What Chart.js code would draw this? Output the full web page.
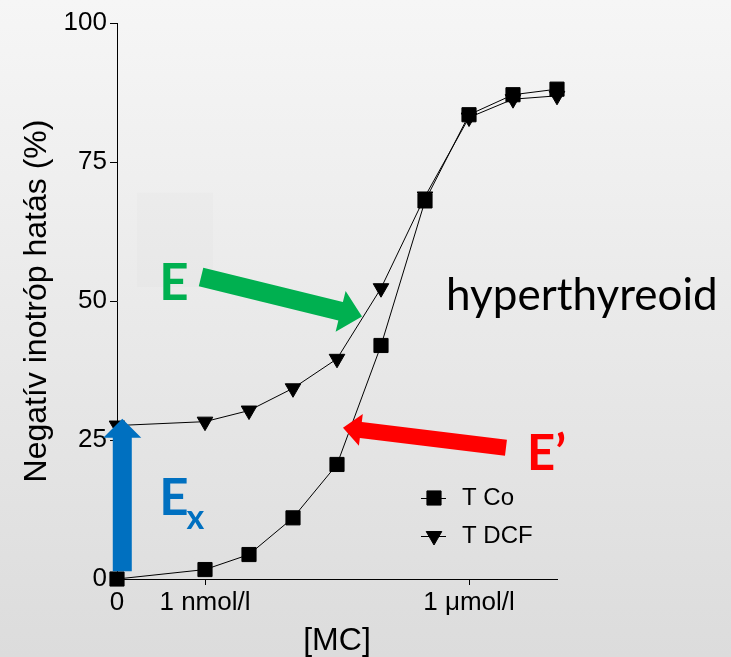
<!DOCTYPE html>
<html>
<head>
<meta charset="utf-8">
<script src="https://cdn.jsdelivr.net/npm/chart.js@4.4.1/dist/chart.umd.min.js"></script>
<style>
  html, body { margin: 0; padding: 0; }
  #wrap { position: relative; width: 731px; height: 657px; background: linear-gradient(#f6f6f6, #dcdcdc); }
</style>
</head>
<body>
<div id="wrap"><canvas id="chart"></canvas></div>
<script>
// x = concentration in decades (0 = no MC, 1 = 1 nmol/l, 4 = 1 umol/l)
var concentrations = [0, 1, 1.5, 2, 2.5, 3, 3.5, 4, 4.5, 5];
var tickValues = [0, 1, 4];
var tickLabels = ['0', '1 nmol/l', '1 \u03bcmol/l'];
var seriesNames = ['T Co', 'T DCF'];
var tCo = [0, 1.7, 4.4, 11.0, 20.6, 42.0, 68.0, 83.5, 87.1, 88.1];
var tDcf = [27.6, 28.3, 30.3, 34.3, 39.6, 52.3, 68.8, 83.0, 86.3, 86.9];

function points(values) {
  return values.map(function(v, i) { return { x: concentrations[i], y: v }; });
}

function drawArrow(ctx, x0, y0, x1, y1, shaft, headW, headL, color) {
  var len = Math.hypot(x1 - x0, y1 - y0);
  ctx.save();
  ctx.translate(x0, y0);
  ctx.rotate(Math.atan2(y1 - y0, x1 - x0));
  ctx.beginPath();
  ctx.moveTo(0, -shaft / 2);
  ctx.lineTo(len - headL, -shaft / 2);
  ctx.lineTo(len - headL, -headW / 2);
  ctx.lineTo(len, 0);
  ctx.lineTo(len - headL, headW / 2);
  ctx.lineTo(len - headL, shaft / 2);
  ctx.lineTo(0, shaft / 2);
  ctx.closePath();
  ctx.fillStyle = color;
  ctx.fill();
  ctx.restore();
}

var slideMarks = {
  id: 'slideMarks',
  beforeDatasetsDraw: function(chart) {
    var ctx = chart.ctx, sx = chart.scales.x, sy = chart.scales.y;
    // faint box left over on the slide
    ctx.save();
    ctx.fillStyle = 'rgba(0,0,0,0.012)';
    var bx = sx.getPixelForValue(0.227), by = sy.getPixelForValue(69.5);
    ctx.fillRect(bx, by, sx.getPixelForValue(1.091) - bx, sy.getPixelForValue(52.5) - by);
    ctx.restore();
  },
  afterDatasetsDraw: function(chart) {
    var ctx = chart.ctx, sx = chart.scales.x, sy = chart.scales.y;
    function px(v) { return sx.getPixelForValue(v); }
    function py(v) { return sy.getPixelForValue(v); }

    drawArrow(ctx, px(0.955), py(54.3), px(2.784), py(47.2), 19, 42, 22, '#00b050');
    drawArrow(ctx, px(4.42), py(23.6), px(2.568), py(27.2), 16, 32, 18, '#ff0000');
    drawArrow(ctx, px(0.06), py(1.4), px(0.06), py(28.8), 19, 38, 19, '#0070c0');

    ctx.save();
    ctx.textBaseline = 'alphabetic';
    ctx.textAlign = 'left';
    ctx.font = 'bold 51px Lato, "Open Sans", sans-serif';
    ctx.fillStyle = '#00b050';
    ctx.fillText('E', px(0.48), py(50.2));
    ctx.fillStyle = '#ff0000';
    ctx.font = 'bold 49px Lato, "Open Sans", sans-serif';
    ctx.fillText('E\u2019', px(4.66), py(19.6));
    ctx.fillStyle = '#0070c0';
    ctx.font = 'bold 51px Lato, "Open Sans", sans-serif';
    ctx.fillText('E', px(0.48), py(11.6));
    ctx.font = 'bold 34px Lato, "Open Sans", sans-serif';
    ctx.fillText('x', px(0.79), py(9.0));
    ctx.fillStyle = '#000';
    ctx.font = '44px Lato, "Open Sans", sans-serif';
    ctx.fillText('hyperthyreoid', px(3.74), py(48.4));

    // legend inside the plot
    var lx = 421, ly = 498;
    ctx.font = '24px "Liberation Sans", Arial, sans-serif';
    ctx.textBaseline = 'middle';
    chart.data.datasets.forEach(function(ds, i) {
      var y = ly + i * 38;
      ctx.strokeStyle = '#000';
      ctx.lineWidth = 1;
      ctx.beginPath();
      ctx.moveTo(lx, y + 0.5);
      ctx.lineTo(lx + 25, y + 0.5);
      ctx.stroke();
      ctx.fillStyle = '#000';
      Chart.helpers.drawPoint(ctx, {
        pointStyle: ds.pointStyle, rotation: ds.pointRotation || 0,
        radius: ds.pointRadius, borderWidth: 1
      }, lx + 13, y);
      ctx.fillText(ds.label, lx + 41, y);
    });
    ctx.restore();
  }
};

Chart.defaults.font.family = '"Liberation Sans", Arial, sans-serif';
Chart.defaults.color = '#000';

new Chart(document.getElementById('chart'), {
  type: 'line',
  data: {
    datasets: [{
      label: seriesNames[0],
      data: points(tCo),
      clip: false,
      borderColor: '#000', backgroundColor: '#000', borderWidth: 1,
      pointStyle: 'rect', pointRadius: 10, pointBorderWidth: 1
    }, {
      label: seriesNames[1],
      data: points(tDcf),
      clip: false,
      borderColor: '#000', backgroundColor: '#000', borderWidth: 1,
      pointStyle: 'triangle', pointRotation: 180, pointRadius: 9, pointBorderWidth: 1
    }]
  },
  options: {
    responsive: true,
    maintainAspectRatio: false,
    animation: false,
    layout: { padding: { top: 23, right: 174, bottom: 0, left: 0 } },
    plugins: { legend: { display: false }, tooltip: { enabled: false } },
    scales: {
      x: {
        type: 'linear', min: 0, max: 5,
        afterFit: function(scale) { scale.height = 78; },
        afterBuildTicks: function(scale) {
          scale.ticks = tickValues.map(function(v) { return { value: v }; });
        },
        ticks: {
          autoSkip: false, maxRotation: 0, padding: 2,
          font: { size: 26 },
          callback: function(value, index) { return tickLabels[index]; }
        },
        grid: { drawOnChartArea: false, tickLength: 6, color: '#000' },
        border: { color: '#000', width: 1 },
        title: { display: true, text: '[MC]', font: { size: 32, lineHeight: 1 }, padding: { top: 0, bottom: 0 } }
      },
      y: {
        min: 0, max: 100,
        afterFit: function(scale) { scale.width = 117; },
        ticks: { stepSize: 25, padding: 3, font: { size: 26 } },
        grid: { drawOnChartArea: false, tickLength: 7, color: '#000' },
        border: { color: '#000', width: 1 },
        title: { display: true, text: 'Negatív inotróp hatás (%)', font: { size: 32, lineHeight: 1.2 }, padding: { top: 18, bottom: 0 } }
      }
    }
  },
  plugins: [slideMarks]
});
</script>
</body>
</html>
